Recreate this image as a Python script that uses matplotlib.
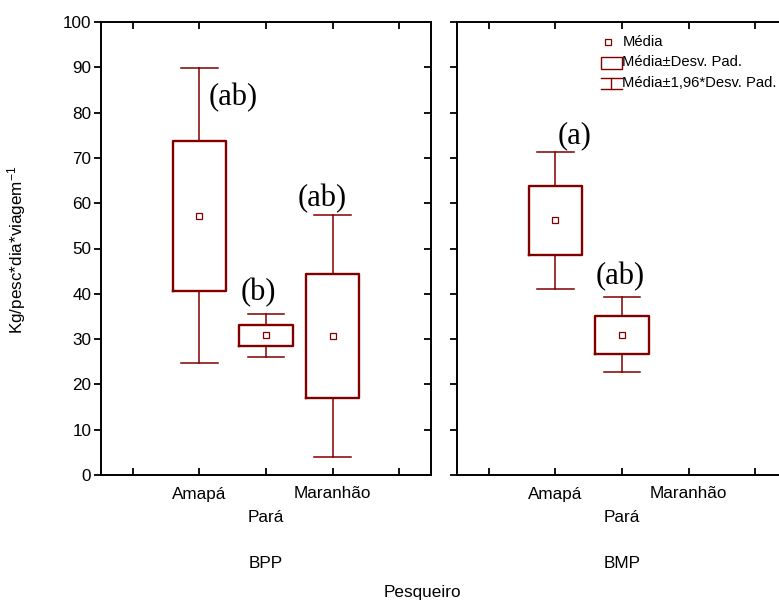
import matplotlib
matplotlib.use("Agg")
import matplotlib.pyplot as plt
from matplotlib.lines import Line2D
from matplotlib.patches import Rectangle

# Data (mean and standard deviation per group)
categories = ["Amapá", "Pará", "Maranhão"]
panels = ["BPP", "BMP"]

bpp_mean = [57.2, 30.8, 30.7]
bpp_sd = [16.6, 2.4, 13.6]
bpp_letters = ["(ab)", "(b)", "(ab)"]
bpp_letter_x = [1.5, 1.89, 2.84]
bpp_letter_y = [83.4, 40.2, 61.1]

bmp_mean = [56.2, 31.0]
bmp_sd = [7.7, 4.2]
bmp_letters = ["(a)", "(ab)"]
bmp_letter_x = [1.28, 1.98]
bmp_letter_y = [74.8, 43.8]

yticks = list(range(0, 101, 10))

plt.rcParams["font.family"] = ["Liberation Sans", "DejaVu Sans"]
plt.rcParams["mathtext.default"] = "regular"

RED = "#800000"
W, H = 779, 603
fig = plt.figure(figsize=(W / 100, H / 100), dpi=100)


def add_px_axes(left, top, right, bottom):
    return fig.add_axes([left / W, 1 - bottom / H, (right - left) / W, (bottom - top) / H])


def draw_panel(ax, means, sds, letters, lx, ly, show_ylabels, right_ticks):
    stats = []
    for m, s in zip(means, sds):
        stats.append({"mean": m, "med": m, "q1": m - s, "q3": m + s,
                      "whislo": m - 1.96 * s, "whishi": m + 1.96 * s})
    pos = list(range(1, len(means) + 1))
    ax.bxp(stats, positions=pos, widths=0.8, capwidths=0.55,
           showmeans=True, showfliers=False,
           boxprops=dict(color=RED, linewidth=1.7),
           whiskerprops=dict(color=RED, linewidth=1.1),
           capprops=dict(color=RED, linewidth=1.1),
           medianprops=dict(linewidth=0),
           meanprops=dict(marker="s", markersize=4.2, markerfacecolor="white",
                          markeredgecolor=RED, markeredgewidth=0.9))
    for t, x, y in zip(letters, lx, ly):
        ax.text(x, y, t, ha="center", va="center", fontsize=22,
                family=["Liberation Serif", "DejaVu Serif"])

    ax.set_xlim(-0.48, 4.48)
    ax.set_ylim(0, 100)
    ax.set_xticks(range(5))
    ax.set_xticklabels([])
    ax.set_yticks(yticks)
    ax.tick_params(axis="x", direction="in", top=True, length=5, width=1.3)
    ax.tick_params(axis="y", direction="out", length=5, width=1.3,
                   labelsize=12.3, pad=2, labelleft=show_ylabels)
    for sp in ax.spines.values():
        sp.set_linewidth(1.4)

    # inward ticks on the right spine
    if right_ticks:
        tw = ax.twinx()
        tw.set_ylim(0, 100)
        tw.set_yticks(yticks)
        tw.tick_params(axis="y", direction="in", length=5, width=1.3, labelright=False)
        for sp in tw.spines.values():
            sp.set_visible(False)

    tr = ax.get_xaxis_transform()
    for i, c in enumerate(categories):
        off = -43 if i == 1 else -19
        ax.annotate(c, (i + 1, 0), xycoords=tr, xytext=(0, off),
                    textcoords="offset pixels", ha="center", va="center", fontsize=12.3)


ax1 = add_px_axes(101, 22, 431, 475)
ax2 = add_px_axes(457, 22, 787, 475)
draw_panel(ax1, bpp_mean, bpp_sd, bpp_letters, bpp_letter_x, bpp_letter_y, True, True)
draw_panel(ax2, bmp_mean, bmp_sd, bmp_letters, bmp_letter_x, bmp_letter_y, False, False)

for ax, p in zip([ax1, ax2], panels):
    ax.annotate(p, (2, 0), xycoords=ax.get_xaxis_transform(), xytext=(0, -88),
                textcoords="offset pixels", ha="center", va="center", fontsize=12.3)

fig.text(422 / W, 1 - 593 / H, "Pesqueiro", ha="center", va="center", fontsize=12.3)
fig.text(17 / W, 1 - 250 / H, "Kg/pesc*dia*viagem$^{-1}$", rotation=90,
         ha="center", va="center", fontsize=12.3)


# legend, drawn by hand in figure pixels
def fx(x):
    return x / W


def fy(y):
    return 1 - y / H


fig.add_artist(Line2D([fx(608)], [fy(42)], marker="s", markersize=4.2,
                      markerfacecolor="white", markeredgecolor=RED,
                      markeredgewidth=0.9, transform=fig.transFigure))
fig.add_artist(Rectangle((fx(600.5), fy(69)), fx(21), 12.5 / H, fill=False,
                         edgecolor=RED, linewidth=1.0, transform=fig.transFigure))
for y in (77.5, 89):
    fig.add_artist(Line2D([fx(600.5), fx(621.5)], [fy(y), fy(y)], color=RED,
                          linewidth=1.0, transform=fig.transFigure))
fig.add_artist(Line2D([fx(611), fx(611)], [fy(77.5), fy(89)], color=RED,
                      linewidth=1.0, transform=fig.transFigure))
legend_labels = ["Média", "Média±Desv. Pad.", "Média±1,96*Desv. Pad."]
for lab, y in zip(legend_labels, (42, 62, 83)):
    fig.text(fx(622.5), fy(y), lab, ha="left", va="center", fontsize=10.6)

fig.savefig("out.png", dpi=100)
